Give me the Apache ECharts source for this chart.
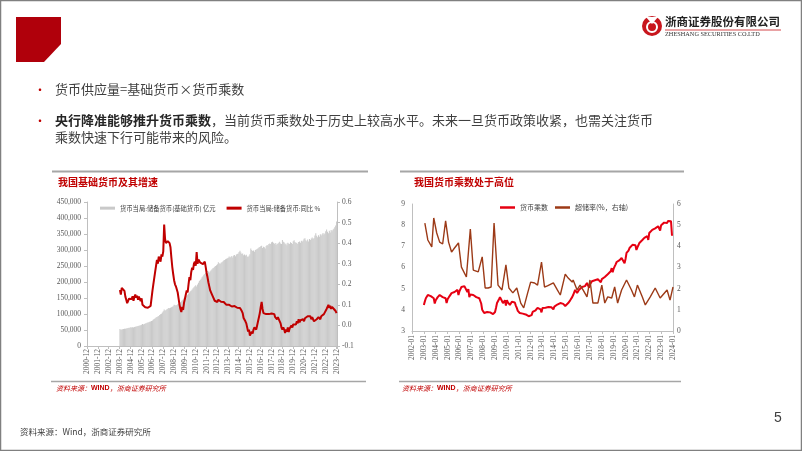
<!DOCTYPE html>
<html><head><meta charset="utf-8">
<script src="https://cdn.jsdelivr.net/npm/echarts@6/dist/echarts.min.js"></script>
<style>html,body{margin:0;padding:0;background:#fff}#c{width:802px;height:451px}</style>
</head><body><div id="c"></div>
<script>
function monthSeq(y, m, n) { const out = []; for (let i = 0; i < n; i++) { const mm = m - 1 + i; out.push((y + Math.floor(mm / 12)) + '-' + String(mm % 12 + 1).padStart(2, '0')); } return out; }

// ---- Left chart: categories & data ----
const leftCats = monthSeq(2000, 12, 277);   // 2000-12 ... 2023-12
const baseMoneyStart = '2003-12';
// 货币当局:储备货币(基础货币) 亿元, monthly from 2003-12
const baseMoney = [
  52800,
  50500, 51800, 52300, 52900, 53600, 54200, 54800, 55100, 56300, 56900, 57400, 58900,
  57800, 58600, 58200, 59600, 60400, 61000, 61900, 62300, 63500, 63900, 64600, 66300,
  68500, 67200, 68600, 70100, 70800, 72600, 73200, 74500, 75800, 76500, 77900, 79800,
  83000, 84500, 86800, 88900, 90600, 92400, 94100, 96900, 99200, 101000, 104500, 108500,
  114000, 110500, 112800, 114500, 116200, 118500, 117800, 119600, 121000, 122800, 124500, 129200,
  128000, 126500, 127800, 130600, 132000, 134500, 136900, 139800, 143200, 145600, 148900, 152000,
  158000, 156500, 160200, 163800, 167500, 171000, 173600, 176500, 180200, 183600, 186900, 190200,
  186000, 192000, 198000, 203500, 206000, 210500, 214800, 218000, 222600, 225000, 228300, 232000,
  234000, 232500, 229800, 233500, 236800, 240200, 243000, 244500, 247300, 249800, 252000, 255300,
  262000, 258500, 256000, 259800, 261500, 264000, 266800, 268500, 270800, 272300, 274600, 276000,
  280000, 276500, 278900, 281300, 276800, 282500, 284000, 280500, 285600, 287200, 289000, 294100,
  298000, 292000, 287500, 289000, 283500, 286000, 282500, 284800, 280000, 278500, 282000, 286400,
  305000, 300200, 296800, 298500, 294600, 299800, 301200, 303500, 305800, 307500, 309000, 311500,
  313000, 306500, 310200, 308600, 304800, 312500, 315300, 314000, 318600, 320200, 318800, 324500,
  326000, 322500, 318400, 321800, 315600, 320300, 318900, 322400, 325800, 320600, 318900, 330900,
  326000, 323500, 318200, 320400, 314800, 322600, 320100, 318500, 324300, 321700, 318800, 327200,
  330500, 325300, 321600, 322800, 318900, 324700, 326500, 322300, 328800, 326600, 329400, 334800,
  336500, 330200, 327400, 332600, 326800, 334500, 331200, 335800, 338900, 334600, 337300, 345200,
  352000, 344600, 339800, 346300, 341500, 348900, 345200, 349600, 352800, 348500, 351300, 358600,
  364000, 356800, 352300, 360200, 354600, 362800, 358500, 363400, 366200, 370800, 376500, 388700
];
// 货币当局:储备货币:同比 (right axis), monthly from 2003-12
const baseMoneyYoY = [
  0.172,
  0.150, 0.182, 0.188, 0.176, 0.168, 0.140, 0.125, 0.108, 0.118, 0.130, 0.122, 0.135,
  0.128, 0.142, 0.120, 0.138, 0.150, 0.135, 0.145, 0.125, 0.140, 0.128, 0.118, 0.132,
  0.100, 0.092, 0.098, 0.088, 0.094, 0.090, 0.086, 0.092, 0.088, 0.095, 0.090, 0.168,
  0.200, 0.230, 0.260, 0.290, 0.318, 0.300, 0.335, 0.330, 0.310, 0.345, 0.335, 0.360,
  0.490, 0.420, 0.400, 0.395, 0.410, 0.405, 0.400, 0.380, 0.330, 0.284, 0.250, 0.220,
  0.200, 0.190, 0.185, 0.160, 0.130, 0.100, 0.080, 0.065, 0.090, 0.075, 0.110, 0.130,
  0.150, 0.170, 0.160, 0.200, 0.235, 0.220, 0.260, 0.280, 0.270, 0.300, 0.310, 0.290,
  0.357, 0.300, 0.320, 0.318, 0.305, 0.300, 0.312, 0.298, 0.305, 0.310, 0.285, 0.255,
  0.235, 0.210, 0.190, 0.170, 0.165, 0.150, 0.140, 0.135, 0.120, 0.125, 0.118, 0.114,
  0.125, 0.130, 0.124, 0.115, 0.120, 0.110, 0.114, 0.108, 0.112, 0.100, 0.105, 0.098,
  0.100, 0.095, 0.105, 0.092, 0.098, 0.090, 0.094, 0.088, 0.092, 0.086, 0.090, 0.085,
  0.085, 0.082, 0.070, 0.060, 0.036, 0.040, 0.020, 0.010, -0.010, -0.030, -0.020, -0.050,
  -0.056, -0.030, -0.040, -0.020, -0.010, -0.012, -0.020, 0.000, 0.020, 0.040, 0.060, 0.090,
  0.114, 0.080, 0.060, 0.065, 0.060, 0.055, 0.062, 0.058, 0.055, 0.060, 0.052, 0.058,
  0.060, 0.050, 0.055, 0.040, 0.045, 0.030, 0.040, 0.036, 0.020, 0.010, -0.010, -0.020,
  -0.010, -0.020, -0.037, -0.020, -0.030, -0.010, -0.032, -0.015, -0.020, 0.000, -0.010, 0.005,
  0.000, 0.010, 0.005, 0.020, 0.010, 0.030, 0.015, 0.025, 0.020, 0.026, 0.030, 0.020,
  0.035, 0.030, 0.040, 0.045, 0.040, 0.050, 0.045, 0.030, 0.040, 0.030, 0.020, 0.025,
  0.017, 0.030, 0.025, 0.040, 0.035, 0.030, 0.045, 0.040, 0.050, 0.055, 0.060, 0.060,
  0.080, 0.090, 0.100, 0.085, 0.095, 0.080, 0.090, 0.085, 0.080, 0.075, 0.070, 0.060
];

// ---- Right chart: categories & data ----
const rightCats = monthSeq(2002, 1, 265);   // 2002-01 ... 2024-01
const multStart = '2003-01';
// 货币乘数, monthly from 2003-01
const multiplier = [
  4.23, 4.40, 4.55, 4.62, 4.70, 4.72, 4.68, 4.65, 4.60, 4.62, 4.55, 4.30,
  4.45, 4.50, 4.60, 4.65, 4.70, 4.66, 4.68, 4.60, 4.62, 4.58, 4.55, 4.32,
  4.50, 4.55, 4.65, 4.72, 4.79, 4.75, 4.82, 4.84, 4.88, 4.92, 4.94, 4.70,
  4.88, 4.98, 5.08, 5.17, 5.16, 5.12, 5.14, 5.10, 4.84, 4.98, 4.60, 4.72,
  4.75, 4.79, 4.70, 4.72, 4.66, 4.60, 4.56, 4.62, 4.55, 4.48, 4.30, 4.00,
  3.95, 3.85, 3.90, 3.92, 3.90, 3.86, 3.92, 3.88, 3.85, 3.82, 3.80, 3.72,
  3.90, 4.10, 4.32, 4.40, 4.50, 4.60, 4.52, 4.55, 4.32, 4.40, 4.45, 4.20,
  4.46, 4.35, 4.40, 4.23, 4.30, 4.38, 4.46, 4.40, 4.35, 4.20, 4.09, 3.95,
  3.92, 3.85, 3.88, 3.85, 3.82, 3.85, 3.80, 3.78, 3.82, 3.75, 3.70, 3.65,
  3.61, 3.75, 3.90, 3.92, 3.95, 3.98, 4.02, 4.09, 4.00, 4.05, 4.02, 3.88,
  4.09, 4.02, 4.05, 4.10, 4.08, 4.12, 4.13, 4.10, 4.15, 4.12, 4.14, 4.02,
  4.15, 4.18, 4.20, 4.25, 4.28, 4.26, 4.32, 4.30, 4.23, 4.28, 4.30, 4.18,
  4.22, 4.25, 4.32, 4.35, 4.45, 4.50, 4.60, 4.70, 4.78, 4.94, 4.92, 4.80,
  4.85, 4.95, 5.00, 4.98, 5.08, 5.05, 5.10, 5.12, 5.20, 5.27, 5.22, 5.05,
  5.20, 5.28, 5.35, 5.41, 5.38, 5.40, 5.44, 5.42, 5.45, 5.48, 5.46, 5.30,
  5.45, 5.48, 5.52, 5.55, 5.58, 5.62, 5.68, 5.74, 5.70, 5.82, 5.97, 5.78,
  5.95, 6.05, 6.15, 6.26, 6.20, 6.30, 6.35, 6.40, 6.45, 6.38, 6.42, 6.20,
  6.40, 6.69, 6.75, 6.80, 6.92, 6.88, 7.00, 7.07, 7.02, 7.10, 7.05, 6.83,
  6.95, 7.05, 7.16, 7.20, 7.25, 7.30, 7.35, 7.40, 7.32, 7.45, 7.48, 7.30,
  7.63, 7.55, 7.62, 7.78, 7.72, 7.80, 7.85, 7.92, 7.88, 7.95, 7.98, 7.75,
  8.00, 7.95, 8.05, 8.12, 8.08, 8.15, 8.10, 8.20, 8.15, 8.22, 8.18, 7.50
];
// 超储率 (%, right axis)
const excessDates = ['2003-02','2003-05','2003-09','2003-11','2004-02','2004-05','2004-08','2004-11','2005-02','2005-05','2005-08','2005-12',
  '2006-03','2006-05','2006-08','2006-12','2007-03','2007-05','2007-08','2007-12','2008-03','2008-06','2008-09','2008-12',
  '2009-04','2009-08','2009-12','2010-03','2010-07','2010-11','2011-03','2011-06','2011-10','2012-01','2012-05','2012-08','2012-12',
  '2013-03','2013-06','2013-12','2014-04','2014-07','2014-12','2015-03','2015-07','2015-08','2015-12','2016-03','2016-06','2016-10',
  '2017-01','2017-04','2017-09','2018-01','2018-04','2018-07','2018-11','2019-02','2019-05','2019-09','2020-02','2020-07','2020-10',
  '2021-01','2021-06','2021-09','2022-02','2022-07','2022-12','2023-07','2023-10','2024-01'];
const excessReserve = [5.10,4.30,3.97,5.34,4.63,4.20,4.11,5.20,4.20,3.73,3.92,4.16,
  3.02,3.02,2.55,4.82,2.88,2.97,2.79,3.50,2.03,2.03,2.08,5.10,
  2.17,1.94,3.12,2.03,1.80,2.03,1.32,1.09,1.80,2.31,2.27,2.17,3.26,
  2.08,2.13,2.27,1.94,1.70,2.69,2.50,2.31,2.41,1.94,2.17,1.94,1.61,
  2.41,1.32,1.32,2.17,1.32,1.61,1.56,2.08,1.32,1.94,2.41,1.94,1.61,
  2.17,1.61,1.23,1.61,2.03,1.56,1.94,1.46,2.08];

function align(cats, start, vals) { const i0 = cats.indexOf(start); return new Array(i0).fill(null).concat(vals); }

const serif = 'Liberation Serif';
const cjk = 'Noto Sans CJK SC';
const axisLbl = { color: '#595959', fontFamily: serif, fontSize: 7.5 };
const axLine = { show: true, lineStyle: { color: '#bfbfbf', width: 1 } };
const axTick = { show: true, length: 3, lineStyle: { color: '#bfbfbf' } };

const chart = echarts.init(document.getElementById('c'), null, { renderer: 'canvas' });
chart.setOption({
  backgroundColor: '#fff',
  animation: false,
  grid: [
    { left: 87, right: 465, top: 202, bottom: 105, containLabel: false },
    { left: 412, right: 129, top: 204, bottom: 120, containLabel: false }
  ],
  legend: [
    { left: 100, top: 205, itemWidth: 15, itemHeight: 3, itemGap: 11, padding: 0, icon: 'rect',
      textStyle: { fontFamily: cjk, fontSize: 6.3, color: '#404040' },
      data: ['货币当局:储备货币(基础货币) 亿元', '货币当局:储备货币:同比 %'] },
    { left: 500, top: 204, itemWidth: 15, itemHeight: 2.5, itemGap: 7, padding: 0, icon: 'rect',
      textStyle: { fontFamily: cjk, fontSize: 7, color: '#404040' },
      data: ['货币乘数', '超储率(%，右轴)'] }
  ],
  xAxis: [
    { type: 'category', gridIndex: 0, data: leftCats, boundaryGap: true,
      axisLine: axLine, axisTick: { show: true, length: 3, interval: 11, lineStyle: { color: '#bfbfbf' } },
      axisLabel: Object.assign({ interval: 11, rotate: 90, margin: 3 }, axisLbl), splitLine: { show: false } },
    { type: 'category', gridIndex: 1, data: rightCats, boundaryGap: false,
      axisLine: axLine, axisTick: { show: true, length: 3, interval: 11, lineStyle: { color: '#bfbfbf' } },
      axisLabel: Object.assign({ interval: 11, rotate: 90, margin: 4 }, axisLbl), splitLine: { show: false } }
  ],
  yAxis: [
    { type: 'value', gridIndex: 0, min: 0, max: 450000, interval: 50000, position: 'left',
      axisLine: axLine, axisTick: axTick, splitLine: { show: false },
      axisLabel: Object.assign({ margin: 6, formatter: v => v.toLocaleString('en-US') }, axisLbl) },
    { type: 'value', gridIndex: 0, min: -0.1, max: 0.6, interval: 0.1, position: 'right',
      axisLine: axLine, axisTick: axTick, splitLine: { show: false },
      axisLabel: Object.assign({ margin: 5, formatter: v => v.toFixed(1) }, axisLbl) },
    { type: 'value', gridIndex: 1, min: 3, max: 9, interval: 1, position: 'left',
      axisLine: axLine, axisTick: { show: false }, splitLine: { show: false },
      axisLabel: Object.assign({ margin: 7 }, axisLbl) },
    { type: 'value', gridIndex: 1, min: 0, max: 6, interval: 1, position: 'right',
      axisLine: axLine, axisTick: { show: false }, splitLine: { show: false },
      axisLabel: Object.assign({ margin: 4 }, axisLbl) }
  ],
  series: [
    { name: '货币当局:储备货币(基础货币) 亿元', type: 'bar', xAxisIndex: 0, yAxisIndex: 0,
      data: align(leftCats, baseMoneyStart, baseMoney), barCategoryGap: '0%', barGap: '0%',
      itemStyle: { color: '#c9c9c9' } },
    { name: '货币当局:储备货币:同比 %', type: 'line', xAxisIndex: 0, yAxisIndex: 1,
      data: align(leftCats, baseMoneyStart, baseMoneyYoY), symbol: 'none',
      lineStyle: { color: '#c00000', width: 2 }, itemStyle: { color: '#c00000' } },
    { name: '货币乘数', type: 'line', xAxisIndex: 1, yAxisIndex: 2,
      data: align(rightCats, multStart, multiplier), symbol: 'none',
      lineStyle: { color: '#e60012', width: 2 }, itemStyle: { color: '#e60012' } },
    { name: '超储率(%，右轴)', type: 'line', xAxisIndex: 1, yAxisIndex: 3,
      data: excessDates.map((d, i) => [d, excessReserve[i]]), symbol: 'none',
      lineStyle: { color: '#9c3a17', width: 1.4 }, itemStyle: { color: '#9c3a17' } }
  ],
  graphic: [
    { type: 'rect', shape: { x: 0.5, y: 0.5, width: 801, height: 450 }, style: { fill: 'none', stroke: '#808080', lineWidth: 1.5 }, silent: true },
    { type: 'polygon', shape: { points: [[16, 17], [61, 17], [61, 44], [44, 62], [16, 62]] }, style: { fill: '#b0000b' } },
    // logo
    { type: 'circle', shape: { cx: 652, cy: 26, r: 10 }, style: { fill: '#c8161d' } },
    { type: 'circle', shape: { cx: 652, cy: 27, r: 5 }, style: { fill: 'none', stroke: '#fff', lineWidth: 2 } },
    { type: 'polygon', shape: { points: [[646, 17], [652, 24], [658, 17]] }, style: { fill: '#fff' } },
    { type: 'text', left: 665, top: 16, style: { text: '浙商证券股份有限公司', font: 'bold 11.5px "Noto Sans CJK SC"', fill: '#222' } },
    { type: 'line', shape: { x1: 665, y1: 30, x2: 781, y2: 30 }, style: { stroke: '#c8161d', lineWidth: 0.8 } },
    { type: 'text', left: 665, top: 31, style: { text: 'ZHESHANG SECURITIES CO.LTD', font: '6.3px "Liberation Serif"', fill: '#333' } },
    // bullets
    { type: 'text', left: 34, top: 84, style: { text: '•', font: '12px "Noto Sans CJK SC"', fill: '#c00000' } },
    { type: 'text', left: 55, top: 83, style: { text: '货币供应量=基础货币×货币乘数', font: '13px "Noto Sans CJK SC"', fill: '#404040' } },
    { type: 'text', left: 34, top: 115, style: { text: '•', font: '12px "Noto Sans CJK SC"', fill: '#c00000' } },
    { type: 'text', left: 55, top: 114, style: {
        text: '{b|央行降准能够推升货币乘数}{n|，当前货币乘数处于历史上较高水平。未来一旦货币政策收紧，也需关注货币}\n{n|乘数快速下行可能带来的风险。}',
        rich: { b: { font: 'bold 13px "Noto Sans CJK SC"', fill: '#262626', lineHeight: 17 }, n: { font: '13px "Noto Sans CJK SC"', fill: '#404040', lineHeight: 17 } } } },
    // panel top lines
    { type: 'line', shape: { x1: 52, y1: 171.5, x2: 368, y2: 171.5 }, style: { stroke: '#a6a6a6', lineWidth: 2 } },
    { type: 'line', shape: { x1: 400, y1: 171.5, x2: 684, y2: 171.5 }, style: { stroke: '#a6a6a6', lineWidth: 2 } },
    // titles
    { type: 'text', left: 58, top: 177, style: { text: '我国基础货币及其增速', font: 'bold 10px "Noto Sans CJK SC"', fill: '#c00000' } },
    { type: 'text', left: 414, top: 177, style: { text: '我国货币乘数处于高位', font: 'bold 10px "Noto Sans CJK SC"', fill: '#c00000' } },
    // bottom lines
    { type: 'line', shape: { x1: 51, y1: 381.5, x2: 366, y2: 381.5 }, style: { stroke: '#a6a6a6', lineWidth: 1.5 } },
    { type: 'line', shape: { x1: 399, y1: 381.5, x2: 681, y2: 381.5 }, style: { stroke: '#a6a6a6', lineWidth: 1.5 } },
    // sources
    { type: 'text', left: 56, top: 385, style: { text: '{a|资料来源：}{w|WIND}{a|，浙商证券研究所}',
        rich: { a: { font: 'italic 7px "Noto Sans CJK SC"', fill: '#c00000' }, w: { font: 'bold 7px "Liberation Sans"', fill: '#c00000' } } } },
    { type: 'text', left: 402, top: 385, style: { text: '{a|资料来源：}{w|WIND}{a|，浙商证券研究所}',
        rich: { a: { font: 'italic 7px "Noto Sans CJK SC"', fill: '#c00000' }, w: { font: 'bold 7px "Liberation Sans"', fill: '#c00000' } } } },
    { type: 'text', left: 20, top: 428, style: { text: '资料来源：Wind，浙商证券研究所', font: '8.5px "Noto Sans CJK SC"', fill: '#404040' } },
    { type: 'text', left: 774, top: 411, style: { text: '5', font: '14px "Liberation Sans"', fill: '#404040' } }
  ]
});
</script></body></html>
